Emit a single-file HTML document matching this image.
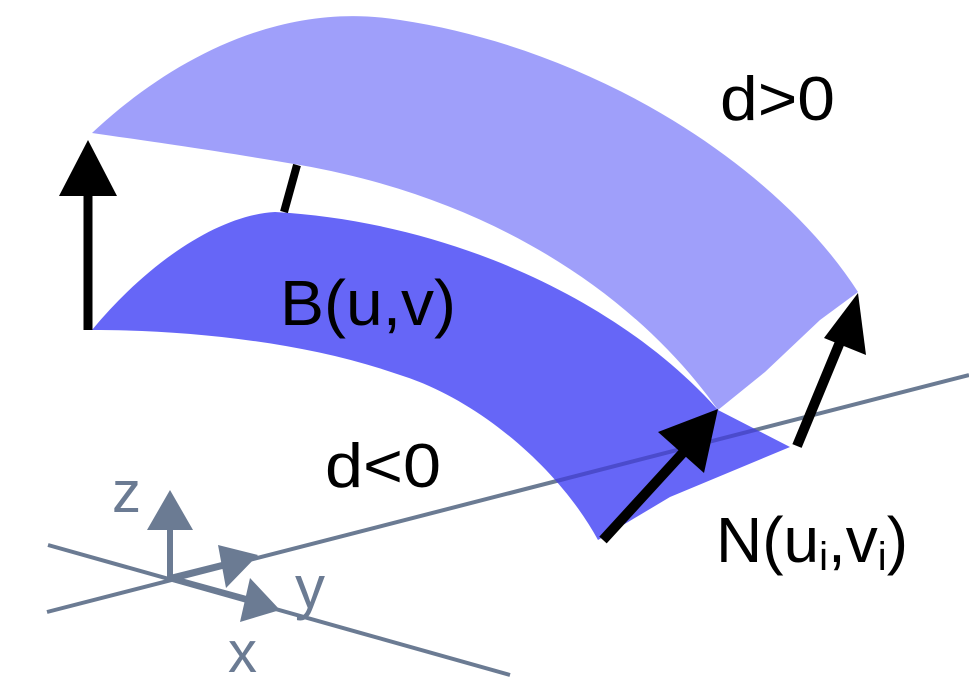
<!DOCTYPE html>
<html><head><style>
html,body{margin:0;padding:0;background:#fff;}
svg{display:block}
text{font-family:"Liberation Sans",sans-serif;}
</style></head><body>
<svg width="969" height="677" viewBox="0 0 969 677" xmlns="http://www.w3.org/2000/svg">
<defs>
<clipPath id="dk"><path d="M92,330 C150,260 220,215 275,212 C450,222 620,300 718,410 L790,447 L670,497 L598,540 C560,470 480,400 400,375 C300,340 180,330 92,330 Z"/></clipPath>
</defs>
<g stroke="#6b7b93" stroke-width="4" fill="none">
<line x1="47" y1="612" x2="969" y2="375"/>
<line x1="48" y1="545" x2="510" y2="675"/>
</g>
<path d="M92,330 C150,260 220,215 275,212 C450,222 620,300 718,410 L790,447 L670,497 L598,540 C560,470 480,400 400,375 C300,340 180,330 92,330 Z" fill="#6666f7"/>
<path d="M92,133 C170,60 280,0 400,20 C600,50 780,170 858,292 L820,320 L765,372 L718,410 C640,300 500,200 300,165 C200,148 140,140 92,133 Z" fill="#9f9ffa"/>
<line x1="47" y1="612" x2="969" y2="375" stroke="#3a3ab0" stroke-width="4" opacity="0.6" clip-path="url(#dk)"/>
<g fill="#6b7b93" stroke="#6b7b93">
<line x1="170" y1="578" x2="170" y2="520" stroke-width="6"/>
<polygon points="170,490 147,530 193,530" stroke="none"/>
<line x1="170" y1="578" x2="230" y2="563" stroke-width="6"/>
<polygon points="258,555 218,545 226,588" stroke="none"/>
<line x1="170" y1="578" x2="250" y2="600" stroke-width="6"/>
<polygon points="280,610 250,578 240,622" stroke="none"/>
</g>
<g fill="#000" stroke="#000">
<line x1="88" y1="330" x2="88" y2="190" stroke-width="9"/>
<polygon points="88,140 59,196 117,196" stroke="none"/>
<line x1="284" y1="212" x2="297" y2="165" stroke-width="8"/>
<line x1="603" y1="540" x2="690" y2="445" stroke-width="10"/>
<polygon points="718,409 658,432 704,473" stroke="none"/>
<line x1="797" y1="446" x2="845" y2="330" stroke-width="10"/>
<polygon points="858,293 824,338 866,355" stroke="none"/>
</g>
<text x="720" y="120" font-size="62" fill="#000" textLength="115" lengthAdjust="spacingAndGlyphs">d&gt;0</text>
<text x="280" y="325" font-size="64" fill="#000" textLength="176" lengthAdjust="spacingAndGlyphs">B(u,v)</text>
<text x="325" y="487" font-size="62" fill="#000" textLength="116" lengthAdjust="spacingAndGlyphs">d&lt;0</text>
<text x="716" y="562" font-size="64" fill="#000">N(u<tspan font-size="40" dy="8">i</tspan><tspan dy="-8">,v</tspan><tspan font-size="40" dy="8">i</tspan><tspan dy="-8">)</tspan></text>
<text x="112" y="512" font-size="58" fill="#6b7b93">z</text>
<text x="295" y="608" font-size="60" fill="#6b7b93">y</text>
<text x="228" y="672" font-size="58" fill="#6b7b93">x</text>
</svg>
</body></html>
